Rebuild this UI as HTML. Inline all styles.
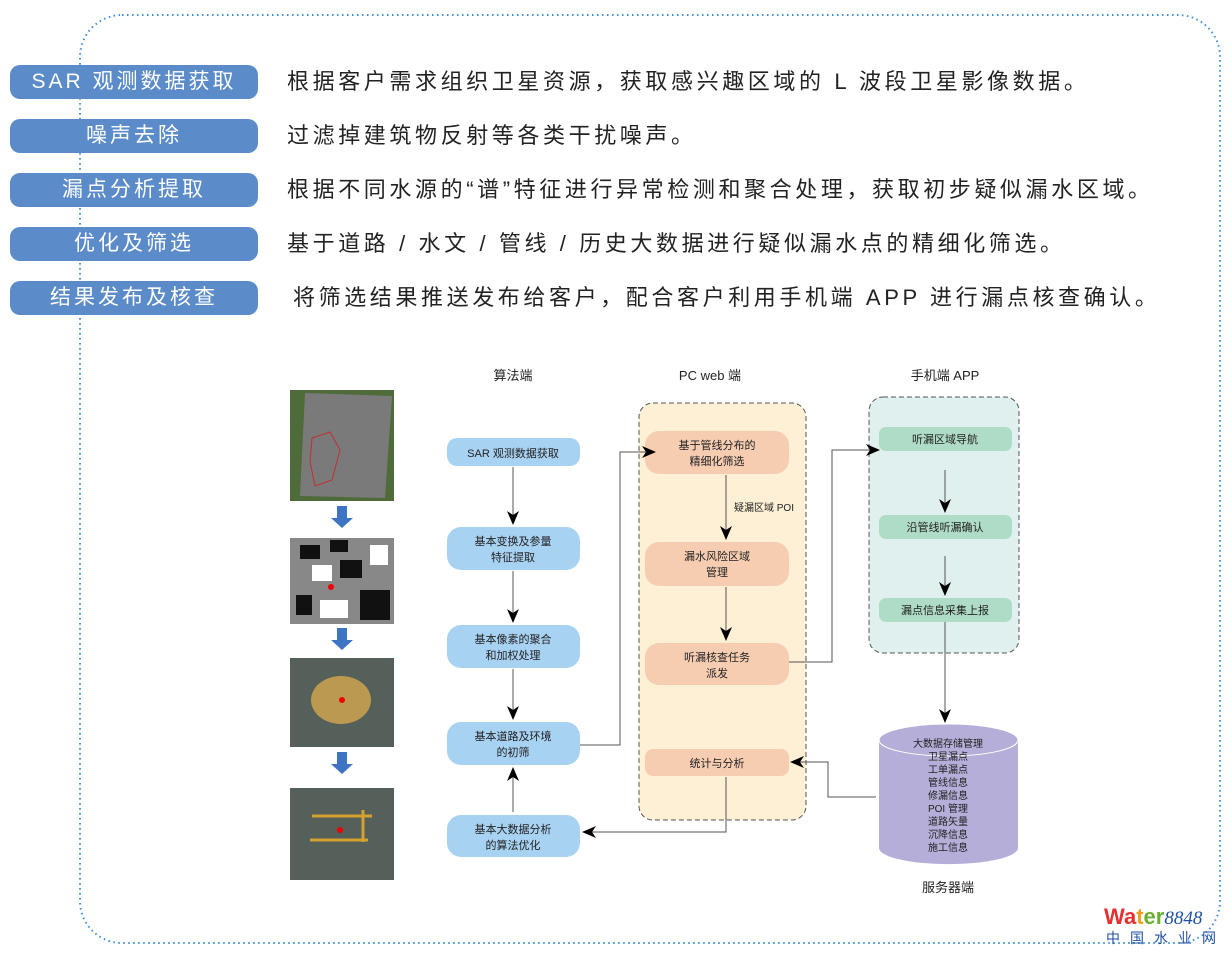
<!DOCTYPE html>
<html><head><meta charset="utf-8"><style>
html,body{margin:0;padding:0;background:#fff;}
body{width:1232px;height:953px;overflow:hidden;position:relative;font-family:"Liberation Sans","Noto Sans CJK SC",sans-serif;}
.pill{position:absolute;left:10px;width:248px;height:34px;background:#5b8bc8;border-radius:10px;color:#fff;font-size:21px;line-height:34px;text-align:center;letter-spacing:3px;}
.desc{position:absolute;left:287px;font-size:22px;color:#222;line-height:34px;white-space:nowrap;letter-spacing:3.6px;}
svg text{font-family:"Liberation Sans","Noto Sans CJK SC",sans-serif;}
</style></head><body>
<svg width="1232" height="953" style="position:absolute;left:0;top:0">
<defs>
<marker id="ah" markerWidth="14" markerHeight="12" refX="13" refY="6" orient="auto" markerUnits="userSpaceOnUse"><path d="M0,0 L14,6 L0,12 L4,6 Z" fill="#000"/></marker>
</defs>
<rect x="80" y="15" width="1140" height="928" rx="42" fill="none" stroke="#3a8fd8" stroke-width="2" stroke-dasharray="1.5 3.5"/>
<rect x="290" y="390" width="104" height="111" fill="#4f6b3a"/>
<polygon points="305,393 392,396 385,498 300,496" fill="#7a7a7a"/>
<polygon points="312,438 330,432 340,450 332,480 315,486 310,462" fill="none" stroke="#c03030" stroke-width="1"/>
<rect x="290" y="538" width="104" height="86" fill="#888"/>
<g fill="#111"><rect x="300" y="545" width="20" height="14"/><rect x="340" y="560" width="22" height="18"/><rect x="360" y="590" width="30" height="30"/><rect x="296" y="595" width="16" height="20"/><rect x="330" y="540" width="18" height="12"/></g>
<g fill="#fff"><rect x="312" y="565" width="20" height="16"/><rect x="370" y="545" width="18" height="20"/><rect x="320" y="600" width="28" height="18"/></g>
<circle cx="331" cy="587" r="3" fill="#e00"/>
<rect x="290" y="658" width="104" height="89" fill="#55605a"/>
<ellipse cx="341" cy="700" rx="30" ry="24" fill="#c8a050" opacity=".9"/>
<circle cx="342" cy="700" r="3" fill="#e00"/>
<rect x="290" y="788" width="104" height="92" fill="#55605a"/>
<path d="M312,816 H372 M310,840 H368 M363,810 V842" stroke="#d4a030" stroke-width="3" fill="none"/>
<circle cx="340" cy="830" r="3" fill="#e00"/>
<g fill="#3d74c4"><path d="M337,506 h10 v12 h6 l-11,10 l-11,-10 h6z"/><path d="M337,628 h10 v12 h6 l-11,10 l-11,-10 h6z"/><path d="M337,752 h10 v12 h6 l-11,10 l-11,-10 h6z"/></g>
<g font-size="13" fill="#222" text-anchor="middle"><text x="513" y="380">算法端</text><text x="710" y="380">PC web 端</text><text x="945" y="380">手机端 APP</text><text x="948" y="892">服务器端</text></g>
<rect x="639" y="403" width="167" height="417" rx="14" fill="#fdf0d4" stroke="#555" stroke-dasharray="5 3"/>
<rect x="869" y="397" width="150" height="256" rx="14" fill="#dff0ee" stroke="#555" stroke-dasharray="5 3"/>
<g fill="#a8d2f2">
<rect x="447" y="438" width="133" height="28" rx="10"/><rect x="447" y="527" width="133" height="43" rx="14"/><rect x="447" y="625" width="133" height="43" rx="14"/><rect x="447" y="722" width="133" height="43" rx="14"/><rect x="447" y="815" width="133" height="42" rx="14"/></g>
<g fill="#f7cdb2"><rect x="645" y="431" width="144" height="43" rx="14"/><rect x="645" y="542" width="144" height="44" rx="14"/><rect x="645" y="643" width="144" height="42" rx="14"/><rect x="645" y="749" width="144" height="27" rx="8"/></g>
<g fill="#afdcc6"><rect x="879" y="427" width="133" height="24" rx="7"/><rect x="879" y="515" width="133" height="24" rx="7"/><rect x="879" y="598" width="133" height="24" rx="7"/></g>
<path d="M879,740 V848 A69,16 0 0 0 1018,848 V740" fill="#b5aed8"/>
<ellipse cx="948.5" cy="740" rx="69.5" ry="16" fill="#b5aed8" stroke="#fff" stroke-width="1"/>
<g font-size="11" fill="#222" text-anchor="middle">
<text x="513" y="457">SAR 观测数据获取</text>
<text x="513" y="545">基本变换及参量</text><text x="513" y="561">特征提取</text>
<text x="513" y="643">基本像素的聚合</text><text x="513" y="659">和加权处理</text>
<text x="513" y="740">基本道路及环境</text><text x="513" y="756">的初筛</text>
<text x="513" y="833">基本大数据分析</text><text x="513" y="849">的算法优化</text>
<text x="717" y="449">基于管线分布的</text><text x="717" y="465">精细化筛选</text>
<text x="717" y="560">漏水风险区域</text><text x="717" y="576">管理</text>
<text x="717" y="661">听漏核查任务</text><text x="717" y="677">派发</text>
<text x="717" y="767">统计与分析</text>
<text x="945" y="443">听漏区域导航</text><text x="945" y="531">沿管线听漏确认</text><text x="945" y="614">漏点信息采集上报</text>
</g>
<g font-size="10" fill="#222" text-anchor="middle">
<text x="948" y="747">大数据存储管理</text><text x="948" y="760">卫星漏点</text><text x="948" y="773">工单漏点</text><text x="948" y="786">管线信息</text><text x="948" y="799">修漏信息</text><text x="948" y="812">POI 管理</text><text x="948" y="825">道路矢量</text><text x="948" y="838">沉降信息</text><text x="948" y="851">施工信息</text>
<text x="764" y="511">疑漏区域 POI</text>
</g>
<g stroke="#555" stroke-width="1" fill="none" marker-end="url(#ah)">
<path d="M513,467 V524"/><path d="M513,571 V622"/><path d="M513,669 V719"/><path d="M513,812 V768"/>
<path d="M580,745 H620 V452 H655"/>
<path d="M726,475 V539"/><path d="M726,587 V640"/>
<path d="M789,662 H832 V450 H879"/>
<path d="M945,470 V512"/><path d="M945,556 V595"/><path d="M945,622 V722"/>
<path d="M876,797 H828 V762 H791"/>
<path d="M726,777 V832 H583"/>
</g>
<text x="1104" y="924" font-size="22" font-weight="bold" fill="#e53030">Wa<tspan fill="#f0a020">t</tspan><tspan fill="#6ab030">er</tspan><tspan fill="#2050a0" font-style="italic" font-weight="normal" font-size="19" font-family="Liberation Serif">8848</tspan></text>
<text x="1106" y="943" font-size="14" fill="#2050a0" letter-spacing="10">中国水业网</text>
</svg>
<div class="pill" style="top:65px">SAR 观测数据获取</div>
<div class="pill" style="top:119px">噪声去除</div>
<div class="pill" style="top:173px">漏点分析提取</div>
<div class="pill" style="top:227px">优化及筛选</div>
<div class="pill" style="top:281px">结果发布及核查</div>
<div class="desc" style="top:65px">根据客户需求组织卫星资源，获取感兴趣区域的 L 波段卫星影像数据。</div>
<div class="desc" style="top:119px">过滤掉建筑物反射等各类干扰噪声。</div>
<div class="desc" style="top:173px">根据不同水源的“谱”特征进行异常检测和聚合处理，获取初步疑似漏水区域。</div>
<div class="desc" style="top:227px">基于道路 / 水文 / 管线 / 历史大数据进行疑似漏水点的精细化筛选。</div>
<div class="desc" style="top:281px;left:293px">将筛选结果推送发布给客户，配合客户利用手机端 APP 进行漏点核查确认。</div>
</body></html>
